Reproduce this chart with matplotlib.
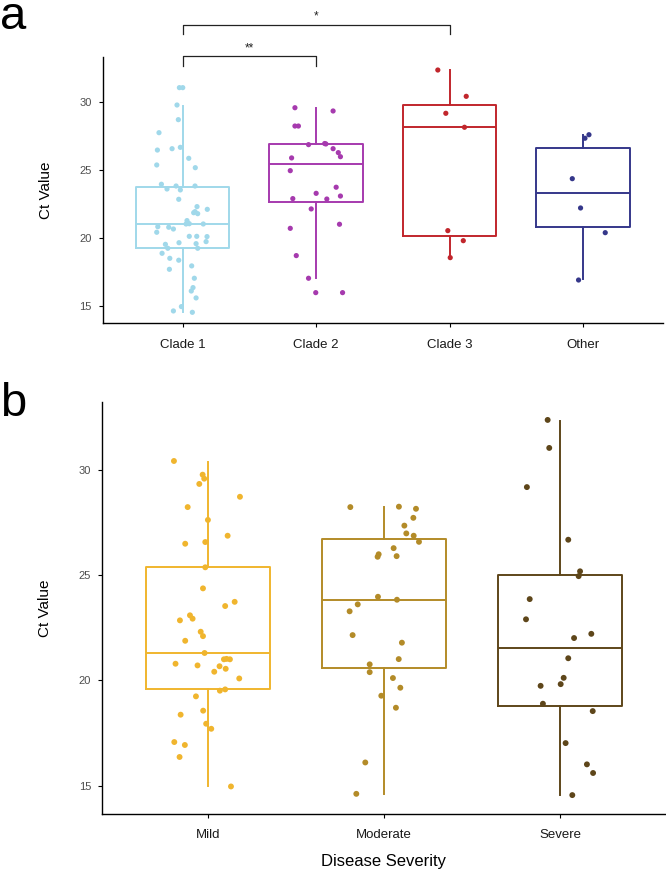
import matplotlib
matplotlib.use('Agg')
import matplotlib.pyplot as plt

plt.rcParams['font.family'] = ['Liberation Sans', 'DejaVu Sans']

# ---- panel a data: Ct value by clade ----
clades = ['Clade 1', 'Clade 2', 'Clade 3', 'Other']
clade_colors = ['#A0D8EA', '#A63AAE', '#C1262C', '#35378A']

clade1_ct = [31.08, 31.08, 29.80, 28.72, 27.76, 26.48, 26.58, 26.68, 25.87, 25.38,
             25.18, 23.96, 23.61, 23.83, 23.54, 23.83, 22.85, 22.31, 22.11, 21.94,
             21.79, 21.86, 21.28, 21.03, 21.08, 21.05, 21.03, 20.83, 20.42, 20.79,
             20.66, 20.12, 20.12, 20.10, 19.73, 19.58, 19.24, 19.65, 19.53, 19.24,
             18.87, 18.50, 18.36, 17.69, 17.94, 17.03, 16.34, 16.09, 15.58, 14.94,
             14.62, 14.52]
clade1_jit = [-0.025, 0.0, -0.043, -0.033, -0.178, -0.190, -0.080, -0.018, 0.045, -0.195,
              0.094, -0.160, -0.118, -0.050, -0.018, 0.092, -0.030, 0.107, 0.184, 0.092,
              0.112, 0.082, 0.032, 0.025, 0.037, 0.049, 0.154, -0.187, -0.195, -0.105,
              -0.070, 0.049, 0.105, 0.182, 0.175, 0.100, 0.112, -0.028, -0.130, -0.112,
              -0.155, -0.097, -0.030, -0.100, 0.067, 0.087, 0.077, 0.064, 0.100, -0.010,
              -0.070, 0.072]
clade2_ct = [29.60, 29.36, 28.25, 28.25, 26.88, 26.96, 26.93, 26.58, 26.29, 25.99,
             25.90, 24.96, 23.74, 23.29, 23.09, 22.90, 22.87, 22.14, 21.01, 20.71,
             18.70, 17.03, 15.97, 15.97]
clade2_jit = [-0.159, 0.127, -0.159, -0.133, -0.057, 0.064, 0.073, 0.127, 0.166, 0.182,
              -0.184, -0.194, 0.150, 0.0, 0.182, -0.175, 0.080, -0.037, 0.175, -0.194,
              -0.149, -0.057, -0.003, 0.198]
clade3_ct = [32.38, 30.44, 29.19, 28.16, 20.54, 19.80, 18.55]
clade3_jit = [-0.088, 0.125, -0.028, 0.112, -0.013, 0.103, 0.005]
other_ct = [27.61, 27.35, 24.37, 22.21, 20.39, 16.90]
other_jit = [0.045, 0.015, -0.080, -0.018, 0.167, -0.033]

# box statistics
clade_whislo = [14.57, 17.03, 18.55, 16.96]
clade_q1 = [19.24, 22.68, 20.17, 20.83]
clade_med = [21.01, 25.45, 28.18, 23.29]
clade_q3 = [23.74, 26.93, 29.80, 26.63]
clade_whishi = [29.75, 29.60, 32.36, 27.59]

# significance brackets (group i, group j, label, bracket height)
sig_pairs = [(1, 2, '**', 33.41), (1, 3, '*', 35.72)]

# ---- panel b data: Ct value by disease severity ----
severity = ['Mild', 'Moderate', 'Severe']
severity_colors = ['#F0B52E', '#B38B28', '#5E461A']

mild_ct = [30.42, 29.77, 29.58, 29.33, 28.72, 28.23, 27.62, 26.87, 26.49, 26.57,
           25.37, 24.37, 23.73, 23.53, 23.09, 22.93, 22.85, 22.31, 22.10, 21.88,
           21.30, 20.79, 20.71, 20.67, 21.00, 21.02, 21.00, 20.41, 20.55, 20.09,
           19.51, 19.57, 19.24, 18.56, 18.37, 17.94, 17.70, 17.07, 16.93, 16.36,
           14.96]
mild_jit = [-0.193, -0.030, -0.021, -0.049, 0.182, -0.115, 0.0, 0.112, -0.129, -0.015,
            -0.015, -0.028, 0.152, 0.098, -0.102, -0.087, -0.159, -0.041, -0.028, -0.129,
            -0.019, -0.184, -0.059, 0.066, 0.091, 0.106, 0.125, 0.036, 0.101, 0.178,
            0.068, 0.098, -0.068, -0.027, -0.155, -0.010, 0.019, -0.191, -0.131, -0.161,
            0.131]
moderate_ct = [28.23, 28.25, 28.15, 27.72, 27.35, 26.98, 26.87, 26.58, 26.28, 25.99,
               25.87, 25.90, 23.97, 23.83, 23.61, 23.28, 22.15, 21.79, 21.01, 20.76,
               20.39, 20.11, 19.65, 19.27, 18.70, 16.10, 14.61]
moderate_jit = [-0.191, 0.085, 0.182, 0.167, 0.116, 0.127, 0.169, 0.199, 0.055, -0.030,
                -0.036, 0.072, -0.034, 0.074, -0.149, -0.195, -0.178, 0.102, 0.084, -0.081,
                -0.081, 0.051, 0.093, -0.015, 0.068, -0.106, -0.157]
severe_ct = [32.37, 31.04, 29.18, 26.68, 25.18, 24.95, 23.86, 22.90, 22.21, 22.01,
             21.05, 20.12, 19.82, 19.74, 18.89, 18.54, 17.02, 16.01, 15.60, 14.55]
severe_jit = [-0.070, -0.061, -0.188, 0.047, 0.114, 0.106, -0.172, -0.193, 0.178, 0.080,
              0.047, 0.021, 0.004, -0.110, -0.097, 0.186, 0.032, 0.153, 0.188, 0.070]

sev_whislo = [14.98, 14.61, 14.55]
sev_q1 = [19.57, 20.60, 18.79]
sev_med = [21.30, 23.83, 21.55]
sev_q3 = [25.37, 26.71, 25.02]
sev_whishi = [30.39, 28.23, 32.33]

yticks = [15, 20, 25, 30]


def draw_panel(ax, labels, colors, values, jitters, lo, q1, med, q3, hi, msize):
    for i, lab in enumerate(labels):
        pos = i + 1
        stat = dict(whislo=lo[i], q1=q1[i], med=med[i], q3=q3[i], whishi=hi[i], label=lab)
        c = colors[i]
        ax.bxp([stat], positions=[pos], widths=0.7, showfliers=False, showcaps=False,
               boxprops=dict(color=c, linewidth=1.4),
               whiskerprops=dict(color=c, linewidth=1.4),
               medianprops=dict(color=c, linewidth=1.4))
        xs = [pos + j for j in jitters[i]]
        ax.scatter(xs, values[i], s=msize, color=c, edgecolors='none', zorder=3)

    ax.set_xticks(range(1, len(labels) + 1))
    ax.set_xticklabels(labels)
    ax.set_xlim(0.4, len(labels) + 0.6)
    ax.set_yticks(yticks)
    for side in ['top', 'right']:
        ax.spines[side].set_visible(False)
    for side in ['left', 'bottom']:
        ax.spines[side].set_linewidth(1.0)
    ax.tick_params(axis='both', length=3, width=0.8, color='black', labelcolor='#4D4D4D')
    ax.tick_params(axis='y', labelsize=8, pad=5)
    ax.tick_params(axis='x', labelsize=9.5, pad=8, labelcolor='#1A1A1A')


fig = plt.figure(figsize=(6.66, 8.74), dpi=100)

# panel a
ax_a = fig.add_axes([0.1542, 0.6301, 0.8413, 0.3047])
draw_panel(ax_a, clades, clade_colors,
           [clade1_ct, clade2_ct, clade3_ct, other_ct],
           [clade1_jit, clade2_jit, clade3_jit, other_jit],
           clade_whislo, clade_q1, clade_med, clade_q3, clade_whishi, 14)
ax_a.set_ylim(13.71, 33.34)
ax_a.set_ylabel('Ct Value', fontsize=11, labelpad=19)

for g1, g2, lab, h in sig_pairs:
    ax_a.plot([g1, g1, g2, g2], [h - 0.7, h, h, h - 0.7], color='#222222',
              linewidth=0.9, clip_on=False)
    ax_a.text((g1 + g2) / 2, h + 0.15, lab, ha='center', va='bottom', fontsize=8.5,
              color='#222222', clip_on=False)

# panel b
ax_b = fig.add_axes([0.1536, 0.0686, 0.8458, 0.4714])
draw_panel(ax_b, severity, severity_colors,
           [mild_ct, moderate_ct, severe_ct],
           [mild_jit, moderate_jit, severe_jit],
           sev_whislo, sev_q1, sev_med, sev_q3, sev_whishi, 18)
ax_b.set_ylim(13.65, 33.22)
ax_b.set_ylabel('Ct Value', fontsize=11, labelpad=19)
ax_b.set_xlabel('Disease Severity', fontsize=12, labelpad=9)

# panel letters
fig.text(0.0, 1 - 29 / 874, 'a', fontsize=34, ha='left', va='baseline')
fig.text(0.0, 1 - 416 / 874, 'b', fontsize=34, ha='left', va='baseline')

fig.savefig('out.png', dpi=100)
